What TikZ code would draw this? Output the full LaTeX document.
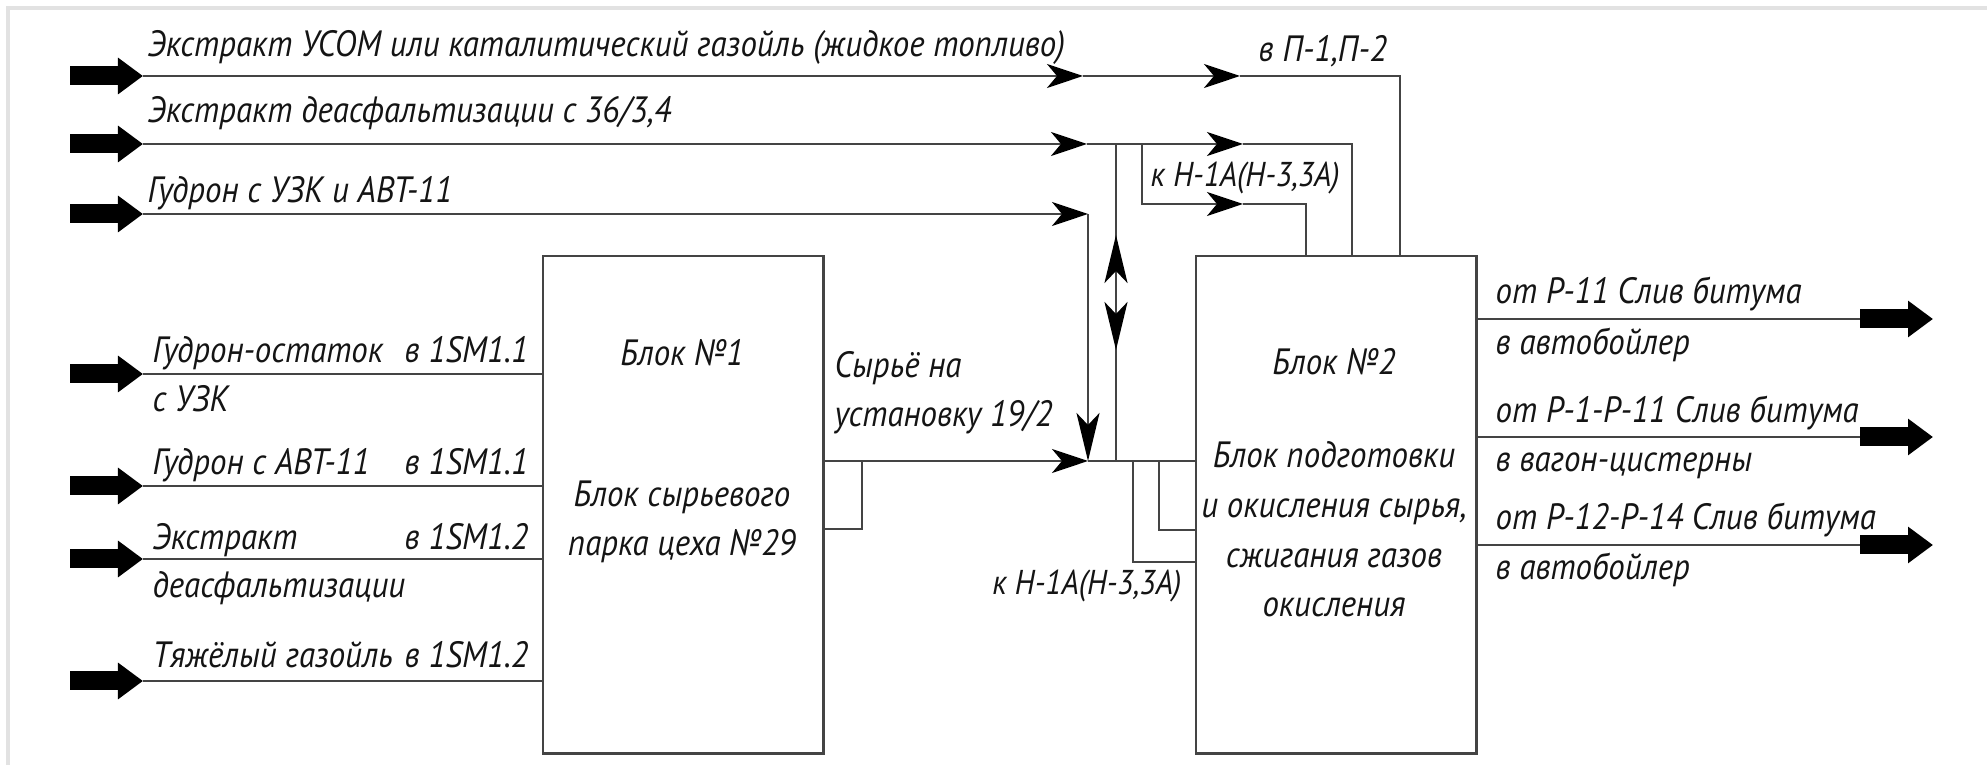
\documentclass[tikz,border=0pt]{standalone}
\usepackage{fontspec}
\setmainfont[FakeStretch=0.9]{PT Sans}
\usepackage{tikz}
\usetikzlibrary{arrows.meta,positioning,calc}
\usepackage{xcolor}
\definecolor{ln}{HTML}{444444}
\definecolor{tx}{HTML}{141414}
\definecolor{frm}{HTML}{E2E2E2}
\tikzset{
  pipe/.style={ln,line width=0.7pt},
  flow/.style={pipe,-{Stealth[length=3.6mm,width=2.4mm,inset=1mm,color=black]}},
  vflow/.style={pipe,-{Stealth[length=4.8mm,width=2.3mm,inset=1.2mm,color=black]}},
  fat/.style={black,line width=1.9mm,-{Triangle[length=2.5mm,width=3.5mm]}},
  blk/.style={draw=ln,line width=0.7pt,minimum width=2.8cm,minimum height=4.97cm,anchor=north west},
  lbl/.style={font=\fontsize{10.4}{14}\selectfont\itshape,text=tx,inner sep=0pt,anchor=base west},
  nlbl/.style={lbl,font=\fontsize{9.8}{14}\selectfont\itshape},
}

\begin{document}
\begin{tikzpicture}[x=0.01cm,y=-0.01cm]
  \useasboundingbox (0,0) rectangle (1987,765);
  \draw[frm,line width=1pt] (8,765) -- (8,8) -- (1987,8);

  % BLOCKS
  \node[blk] (b1) at (542,255) {};
  \node[blk] (b2) at (1195,255) {};
  \node[lbl,anchor=base] (b1a) at (682,366) {Блок №1};
  \node[lbl,anchor=base] (b1b) at (682,507) {Блок сырьевого};
  \node[lbl,anchor=base] (b1c) at (682,556) {парка цеха №29};
  \node[lbl,anchor=base] (b2a) at (1334,375) {Блок №2};
  \node[lbl,anchor=base] (b2b) at (1334,468) {Блок подготовки};
  \node[lbl,anchor=base] (b2c) at (1334,518) {и окисления сырья,};
  \node[lbl,anchor=base] (b2d) at (1334,568) {сжигания газов};
  \node[lbl,anchor=base] (b2e) at (1334,617) {окисления};

  % TOP: feeds to block 2
  \coordinate (s1) at (143,76);
  \coordinate (s2) at (143,144);
  \coordinate (s3) at (143,214);
  \foreach \p in {s1,s2,s3}
    \draw[fat] ($(\p)-(73,0)$) -- (\p);
  \coordinate (a1) at (1083,76);
  \coordinate (a2) at (1240,76);
  \coordinate (t3) at (b2.north west -| 1400,0);
  \draw[flow] (s1) -- (a1);
  \draw[flow] (a1) -- (a2);
  \draw[pipe] (a2) -| (t3);
  \node[lbl] (l1) at (147,57) {Экстракт УСОМ или каталитический газойль (жидкое топливо)};
  \node[lbl] (l1r) at (1258,62) {в П-1,П-2};

  \coordinate (m1) at (1087,144);
  \coordinate (m2) at (1243,144);
  \coordinate (k1) at (1116,144);
  \coordinate (k2) at (1142,144);
  \coordinate (m3) at (1243,204);
  \coordinate (t1) at (b2.north west -| 1306,0);
  \coordinate (t2) at (b2.north west -| 1352,0);
  \draw[flow] (s2) -- (m1);
  \draw[flow] (m1) -- (m2);
  \draw[pipe] (m2) -| (t2);
  \draw[flow] (k2) |- (m3);
  \draw[pipe] (m3) -| (t1);
  \node[lbl] (l2) at (147,123) {Экстракт деасфальтизации с 36/3,4};
  \node[nlbl] (l2r) at (1150,187) {к Н-1А(Н-3,3А)};

  \coordinate (j3) at (1088,214);
  \coordinate (jf) at (1088,461);
  \draw[flow] (s3) -- (j3);
  \draw[vflow] (j3) -- (jf);
  \node[lbl] (l3) at (147,203) {Гудрон с УЗК и АВТ-11};

  % double arrow on the by-pass
  \coordinate (kf) at (1116,461);
  \coordinate (dm) at (1116,293);
  \draw[pipe] (k1) -- (kf);
  \draw[vflow] (dm) -- (1116,235);
  \draw[vflow] (dm) -- (1116,350);

  % FEED: block 1 -> block 2
  \draw[flow] (b1.east |- jf) -- (jf);
  \draw[pipe] (jf) -- (b2.west |- jf);
  \draw[pipe] (862,461) |- (b1.east |- 0,529);
  \draw[pipe] (1133,461) |- (b2.west |- 0,562);
  \draw[pipe] (1159,461) |- (b2.west |- 0,530);
  \node[lbl] (f1) at (834,378) {Сырьё на};
  \node[lbl] (f2) at (834,427) {установку 19/2};
  \node[nlbl,anchor=base east] (f3) at (1182,595) {к Н-1А(Н-3,3А)};

  % LEFT: inputs to block 1
  \foreach \y in {374,486,559,681} {
    \draw[fat] (70,\y) -- (143,\y);
    \draw[pipe] (143,\y) -- (b1.west |- 0,\y);
  }
  \node[lbl] (i1) at (152,363) {Гудрон-остаток};
  \node[lbl] (i1b) at (152,412) {с УЗК};
  \node[lbl] (i2) at (152,475) {Гудрон с АВТ-11};
  \node[lbl] (i3) at (152,550) {Экстракт};
  \node[lbl] (i3b) at (152,598) {деасфальтизации};
  \node[lbl] (i4) at (152,668) {Тяжёлый газойль};
  \foreach \y/\t in {363/1SM1.1,475/1SM1.1,550/1SM1.2,668/1SM1.2}
    \node[lbl] at (404,\y) {в \t};

  % RIGHT: bitumen out
  \foreach \y in {319,437,545} {
    \draw[pipe] (b2.east |- 0,\y) -- (1860,\y);
    \draw[fat] (1860,\y) -- (1933,\y);
  }
  \node[lbl] (o1) at (1495,304) {от Р-11 Слив битума};
  \node[lbl] (o1b) at (1495,355) {в автобойлер};
  \node[lbl] (o2) at (1495,423) {от Р-1-Р-11 Слив битума};
  \node[lbl] (o2b) at (1495,472) {в вагон-цистерны};
  \node[lbl] (o3) at (1495,530) {от Р-12-Р-14 Слив битума};
  \node[lbl] (o3b) at (1495,580) {в автобойлер};
\end{tikzpicture}
\end{document}
